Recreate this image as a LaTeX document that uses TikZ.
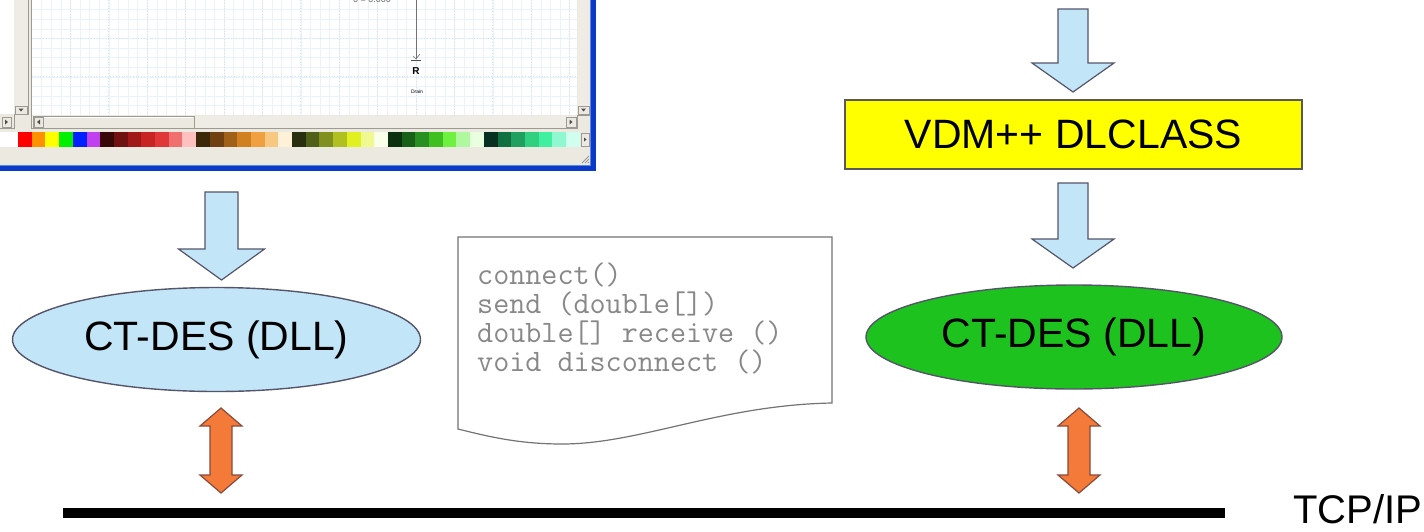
\documentclass[tikz,border=0pt]{standalone}
\usepackage{fontspec}
\setmainfont{Liberation Sans}
\usetikzlibrary{shapes.geometric,calc}

\definecolor{winbg}{HTML}{ECE9E0}
\definecolor{winshade}{HTML}{9C9A92}
\definecolor{xpblue}{HTML}{0A3AC8}
\definecolor{xplight}{HTML}{5A86E8}
\definecolor{gridminor}{HTML}{EAF2FB}
\definecolor{gridmajor}{HTML}{D2E2F4}
\definecolor{flowblue}{HTML}{C3E5F8}
\definecolor{flowedge}{HTML}{55556A}
\definecolor{dllgreen}{HTML}{1EC21E}
\definecolor{labelyellow}{HTML}{FFFF00}
\definecolor{linkorange}{HTML}{F47A3A}
\definecolor{linkedge}{HTML}{8A4A3A}
\definecolor{codegray}{HTML}{888888}

% block arrow pointing down: start, tip, shaft half-width, head half-width, head length
\newcommand{\blockdown}[5]{%
  \filldraw[flowarrow]
    ($(#1)+(-#3,0)$) -- ($(#1)+(#3,0)$) -- ($(#2)+(#3,-#5)$) -- ($(#2)+(#4,-#5)$)
    -- (#2) -- ($(#2)+(-#4,-#5)$) -- ($(#2)+(-#3,-#5)$) -- cycle;}
% double-headed block arrow: top tip, bottom tip, shaft half-width, head half-width, head length
\newcommand{\blockboth}[5]{%
  \filldraw[linkarrow]
    (#1) -- ($(#1)+(#4,#5)$) -- ($(#1)+(#3,#5)$) -- ($(#2)+(#3,-#5)$) -- ($(#2)+(#4,-#5)$)
    -- (#2) -- ($(#2)+(-#4,-#5)$) -- ($(#2)+(-#3,-#5)$) -- ($(#1)+(-#3,#5)$) -- ($(#1)+(-#4,#5)$) -- cycle;}

\tikzset{
  flowarrow/.style={fill=flowblue, draw=flowedge, line width=1.2pt, line join=miter},
  linkarrow/.style={fill=linkorange, draw=linkedge, line width=1.2pt, line join=miter},
  bigtext/.style={font=\fontsize{41}{41}\selectfont, text=black},
  dll/.style={ellipse, draw=flowedge, line width=1.4pt, inner sep=0pt, bigtext},
  codeline/.style={anchor=base west, inner sep=0pt, text=codegray,
                   font=\ttfamily\fontsize{31.2}{29}\selectfont},
  scrollbtn/.style={fill=winbg, draw=winshade, line width=0.8pt},
}

\begin{document}
\begin{tikzpicture}[x=1pt,y=-1pt]
\useasboundingbox (0,0) rectangle (1424,531);
\fill[white] (0,0) rectangle (1424,531);

% ---------- editor window ----------
\begin{scope}
\clip (0,0) rectangle (596,171);
\fill[winbg] (0,0) rectangle (590,165);
% left tool panel
\fill[white] (0,0) rectangle (14,114);
\fill[winbg!85!white] (14,0) rectangle (28,106);
\filldraw[scrollbtn] (15,106) rectangle (27,114);
\fill[black!70] (18.5,108.5) -- (23.5,108.5) -- (21,111.5) -- cycle;
\draw[winshade, line width=0.8pt] (28,0) -- (28,114) -- (14,114) -- (14,128) -- (0,128);
\filldraw[scrollbtn] (2,117) rectangle (11,127);
\fill[black!70] (5,119.5) -- (5,124.5) -- (8,122) -- cycle;
% drawing canvas with grid
\fill[white] (32,0) rectangle (577,115);
\foreach \gx in {41.6,51.2,...,577} \draw[gridminor, line width=0.6pt] (\gx,0) -- (\gx,115);
\foreach \gy in {9.6,19.2,...,115} \draw[gridminor, line width=0.6pt] (32,\gy) -- (577,\gy);
\foreach \gx in {70.4,108.8,...,577} \draw[gridmajor, line width=0.8pt, dotted] (\gx,0) -- (\gx,115);
\foreach \gy in {38.4,76.8} \draw[gridmajor, line width=0.8pt, dotted] (32,\gy) -- (577,\gy);
\draw[winshade, line width=1pt] (31,0) -- (31,128);
% canvas content
\node[anchor=base, inner sep=0pt, text=black!60, font=\fontsize{9}{9}\selectfont] (val) at (372,2.5) {0 = 0.000};
\draw[black!55, line width=1pt] (416,0) -- (416,58);
\draw[black!70, line width=0.8pt] (411,60) -- (421,60);
\draw[black!55, line width=0.6pt] (413,56) -- (416,59) -- (420,54);
\node[inner sep=0pt, font=\bfseries\fontsize{10}{10}\selectfont] (rlabel) at (416,71) {R};
\node[inner sep=0pt, font=\fontsize{5}{5}\selectfont] (drain) at (417,92) {Drain};
% canvas scrollbars
\fill[winbg!85!white] (578,0) rectangle (589,106);
\filldraw[scrollbtn] (578,106) rectangle (589,114);
\fill[black!70] (581,108.5) -- (586,108.5) -- (583.5,111.5) -- cycle;
\fill[winbg!85!white] (32,116) rectangle (577,128);
\filldraw[fill=winbg, draw=winshade, line width=1pt] (33,116) rectangle (194,128);
\draw[white, line width=0.8pt] (34,127) -- (34,117) -- (193,117);
\filldraw[scrollbtn] (34,117) rectangle (43,127);
\fill[black!70] (40,119.5) -- (40,124.5) -- (37,122) -- cycle;
\filldraw[scrollbtn] (566,117) rectangle (576,127);
\fill[black!70] (569.5,119.5) -- (569.5,124.5) -- (572.5,122) -- cycle;
\draw[winshade, line width=0.8pt] (589,106) -- (589,115) -- (577,115) -- (577,128) -- (31,128);
% colour palette
\fill[white] (0,132) rectangle (18,147);
\foreach \c [count=\i from 0] in {
  FF0000,FF9000,FFFF00,00F000,0020FF,C040F0,
  380808,701010,A01818,C82424,E03838,F07070,FFC0C0,
  3A2808,704010,A06018,D08020,F0A040,F8C880,FFF0D8,
  283010,506018,809020,B0C020,E0F020,F0F890,FAFFE8,
  0A3010,186018,289020,40C020,70F040,B0F8A0,E8FFE0,
  083020,107040,20A060,30D080,40F0A0,90F8D0,D0FFF0} {
  \definecolor{sw}{HTML}{\c}
  \fill[sw] ({18+13.7*\i},132) rectangle ({18+13.7*(\i+1)},147);
}
\filldraw[scrollbtn] (581,133) rectangle (589,146);
\fill[black!70] (584,137.5) -- (584,141.5) -- (586.5,139.5) -- cycle;
% size grip
\foreach \k in {0,3,6} \draw[winshade, line width=0.8pt] (588-\k,163) -- (589,162-\k);
% window frame
\fill[xpblue] (590,0) rectangle (596,171);
\fill[xpblue] (0,165) rectangle (596,171);
\draw[xplight, line width=1pt] (590,0) -- (590,165) -- (0,165);
\end{scope}

% ---------- right-hand chain ----------
\node[draw=black!65, line width=1.2pt, fill=labelyellow, minimum width=457pt, minimum height=69pt,
      inner sep=0pt, bigtext] (dlclass) at (1073.5,134.5) {VDM++ DLCLASS};

\node[dll, fill=flowblue, minimum width=408pt, minimum height=104pt] (dllL) at (216.5,339.5) {CT-DES (DLL)};
\node[dll, fill=dllgreen, minimum width=416pt, minimum height=104pt] (dllR) at (1074,337) {CT-DES (DLL)};

% block arrows
\coordinate (a1s) at (221.5,192); \coordinate (a1t) at (221.5,280);
\blockdown{a1s}{a1t}{16.5}{43}{31}
\coordinate (a2s) at (1073,9);    \coordinate (a2t) at (1073,92);
\blockdown{a2s}{a2t}{15}{41}{29}
\coordinate (a3s) at (1073,183);  \coordinate (a3t) at (1073,268);
\blockdown{a3s}{a3t}{15}{41}{29}

% links to the network
\coordinate (b1s) at (221,408);   \coordinate (b1t) at (221,493);
\blockboth{b1s}{b1t}{11}{21}{18}
\coordinate (b2s) at (1079,408);  \coordinate (b2t) at (1079,493);
\blockboth{b2s}{b2t}{11}{21}{18}

% network bus
\coordinate (busL) at (63,513); \coordinate (busR) at (1225,513);
\draw[line width=10pt] (busL) -- (busR);
\node[anchor=base west, inner sep=0pt, font=\fontsize{40}{40}\selectfont] (tcp) at (1293,523.5) {TCP/IP};

% interface note
\filldraw[fill=white, draw=black!55, line width=1.2pt]
  (458,237) -- (832,237) -- (832,403)
  .. controls (720,405) and (640,444) .. (562,444)
  .. controls (520,444) and (490,437) .. (458,429) -- cycle;
\node[codeline] (code1) at (477,284) {connect()};
\node[codeline] (code2) at (477,313) {send (double[])};
\node[codeline] (code3) at (477,342) {double[] receive ()};
\node[codeline] (code4) at (477,371) {void disconnect ()};
\end{tikzpicture}
\end{document}
